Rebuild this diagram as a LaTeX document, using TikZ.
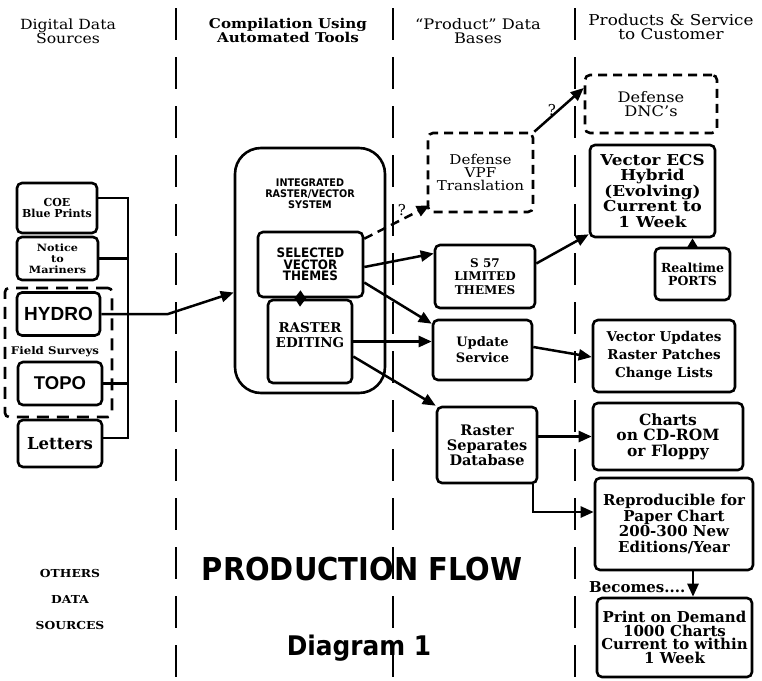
\documentclass[tikz,border=0pt]{standalone}
\usepackage{fontspec}
\setmainfont{DejaVu Serif}
\newfontfamily\heavysans{DejaVu Sans}[FakeStretch=0.92]
\newfontfamily\plainsans{Liberation Sans}
\newfontfamily\wideserif{DejaVu Serif}[FakeStretch=1.12, Ligatures=TeX]
\usetikzlibrary{arrows.meta}

\begin{document}
\begin{tikzpicture}[x=1pt,y=-1pt,
  box/.style={draw, line width=2.6pt, rounded corners=5pt, align=center, inner sep=0pt},
  dbox/.style={box, dash pattern=on 9pt off 6pt},
  conn/.style={line width=2.5pt},
  arr/.style={conn, -{Triangle[length=13pt,width=11pt]}},
  divider/.style={line width=2.8pt, dash pattern=on 32pt off 17pt},
  title/.style={font=\wideserif\fontsize{#1}{14}\selectfont, align=center, inner sep=0pt},
  bser/.style={font=\bfseries\fontsize{#1}{#1}\selectfont},
  wser/.style={font=\wideserif\bfseries\fontsize{#1}{#1}\selectfont},
  txt/.style={align=center, inner sep=0pt}
]
\useasboundingbox (0,0) rectangle (762,680);
\fill[white] (0,0) rectangle (762,680);

% column dividers
\draw[divider] (176,8) -- (176,678);
\draw[divider] (393,8) -- (393,678);
\draw[divider] (575,8) -- (575,678);

% column headings
\node[title=14] (h1) at (68,31) {Digital Data\\Sources};
\node[title=13.5, font=\wideserif\bfseries\fontsize{13.5}{14}\selectfont] (h2) at (288,30) {Compilation Using\\Automated Tools};
\node[title=14.5] (h3) at (478,31) {``Product'' Data\\Bases};
\node[title=15] (h4) at (671,27) {Products \& Service\\to Customer};

% digital data sources
\node[box, font=\bfseries\fontsize{11}{11}\selectfont, minimum width=80, minimum height=50] (coe) at (57,208) {COE\\Blue Prints};
\node[box, font=\wideserif\bfseries\fontsize{10}{11}\selectfont, minimum width=81, minimum height=43] (notice) at (57.5,258.5) {Notice\\to\\Mariners};
\node[box, font=\plainsans\bfseries\fontsize{19}{19}\selectfont, minimum width=83, minimum height=43] (hydro) at (58.5,314) {HYDRO};
\node[txt, wser=10.5] (fieldlbl) at (55,352) {Field Surveys};
\node[box, font=\plainsans\bfseries\fontsize{18.5}{18.5}\selectfont, minimum width=84, minimum height=43] (topo) at (60,383.5) {TOPO};
\node[draw, line width=2.6pt, dash pattern=on 12pt off 8pt, rounded corners=4pt, minimum width=107, minimum height=129] (field) at (58.5,352.5) {};
\node[box, bser=16.5, minimum width=84, minimum height=47] (letters) at (60,443.5) {Letters};

% collecting bus
\coordinate (bt) at (128,198);
\coordinate (bb) at (128,438);
\draw[conn] (coe.east |- bt) -- (bt) -- (bb) -- (letters.east |- bb);
\draw[conn] (notice.east) -- (notice.east -| bt);
\draw[conn] (topo.east) -- (topo.east -| bt);

% integrated system
\node[draw, line width=2.6pt, rounded corners=26pt, minimum width=150, minimum height=245] (irv) at (310,270.5) {};
\node[txt, font=\heavysans\bfseries\fontsize{10.5}{11}\selectfont] (irvtext) at (310,194) {INTEGRATED\\RASTER/VECTOR\\SYSTEM};
\node[box, font=\heavysans\bfseries\fontsize{13}{11.5}\selectfont, minimum width=105, minimum height=65] (svt) at (310.5,264.5) {SELECTED\\VECTOR\\THEMES};
\node[box, minimum width=84, minimum height=83] (re) at (310,341.5) {};
\node[txt, font=\bfseries\fontsize{13.5}{14.5}\selectfont] (retext) at (310,335) {RASTER\\EDITING};
\draw[conn, {Triangle[length=8pt,width=11pt]}-{Triangle[length=10pt,width=13pt]}]
  ([shift={(-10pt,8pt)}]svt.south) -- ([shift={(-10pt,-8pt)}]re.north);

\coordinate (bend) at (168,314);
\draw[arr] (hydro.east) -- (bend) -- ([yshift=-22pt]irv.west);

% product data bases
\node[dbox, font=\wideserif\fontsize{13.5}{13}\selectfont, minimum width=105, minimum height=79] (vpf) at (480.5,172.5) {Defense\\VPF\\Translation};
\node[box, font=\bfseries\fontsize{12}{13.5}\selectfont, minimum width=100, minimum height=63] (s57) at (485,276.5) {S 57\\LIMITED\\THEMES};
\node[box, font=\bfseries\fontsize{13}{16}\selectfont, minimum width=99, minimum height=60] (update) at (482.5,350) {Update\\Service};
\node[box, font=\bfseries\fontsize{14.5}{15}\selectfont, minimum width=100, minimum height=76] (rsd) at (487,445) {Raster\\Separates\\Database};

% products and services
\node[dbox, font=\wideserif\fontsize{14.5}{14.5}\selectfont, minimum width=132, minimum height=58] (dnc) at (651,104) {Defense\\DNC's};
\node[box, font=\wideserif\bfseries\fontsize{15}{15.5}\selectfont, minimum width=125, minimum height=92] (ecs) at (652.5,191) {Vector ECS\\Hybrid\\(Evolving)\\Current to\\1 Week};
\node[box, font=\bfseries\fontsize{12.5}{13}\selectfont, minimum width=75, minimum height=52] (rt) at (692.5,274) {Realtime\\PORTS};
\node[box, font=\bfseries\fontsize{13.5}{18}\selectfont, minimum width=142, minimum height=72] (vu) at (664,356) {Vector Updates\\Raster Patches\\Change Lists};
\node[box, font=\bfseries\fontsize{15.5}{15.5}\selectfont, minimum width=150, minimum height=67] (charts) at (668,436.5) {Charts\\on CD-ROM\\or Floppy};
\node[box, font=\bfseries\fontsize{15}{15.5}\selectfont, minimum width=158, minimum height=92] (repro) at (674,524) {Reproducible for\\Paper Chart\\200-300 New\\Editions/Year};
\node[txt, anchor=west, bser=15] (becomes) at (589,587) {Becomes....};
\node[box, font=\bfseries\fontsize{15}{13.7}\selectfont, minimum width=155, minimum height=79] (pod) at (674.5,637.5) {Print on Demand\\1000 Charts\\Current to within\\1 Week};

% flows
\draw[arr, dash pattern=on 9pt off 6pt] ([yshift=-8pt]svt.north east) -- ([shift={(3pt,8pt)}]vpf.south west);
\node[txt, font=\fontsize{15}{15}\selectfont] (q1) at (402,210) {?};
\draw[arr] ([yshift=-2.5pt]svt.east) -- ([yshift=23pt]s57.west);
\draw[arr] ([yshift=-18pt]svt.east) -- ([yshift=-5pt]update.north west);
\draw[arr] (re.east) -- (re.east -| update.west);
\draw[arr] ([yshift=-15pt]re.east) -- (rsd.north west);
\draw[arr] (vpf.north east) -- ([yshift=16pt]dnc.west);
\node[txt, font=\fontsize{15}{15}\selectfont] (q2) at (552,110) {?};
\draw[arr] ([yshift=13pt]s57.east) -- ([yshift=4pt]ecs.south west);
\draw[arr, -{Triangle[length=9pt,width=10pt]}] (rt.north) -- (rt.north |- ecs.south);
\draw[arr] ([yshift=3pt]update.east) -- ([yshift=-1pt]vu.west);
\draw[arr] (rsd.east |- charts.west) -- (charts.west);
\coordinate (rsdturn) at (533,512);
\draw[arr] (rsdturn |- rsd.south) -- (rsdturn) -- (rsdturn -| repro.west);
\draw[arr] ([xshift=19pt]repro.south) -- ([xshift=18.5pt]pod.north);

% captions
\node[txt, font=\wideserif\bfseries\fontsize{11}{26}\selectfont] (others) at (70,599) {OTHERS\\DATA\\SOURCES};
\node[txt, font=\heavysans\bfseries\fontsize{31.5}{31.5}\selectfont] (flow) at (362,569) {PRODUCTION FLOW};
\node[txt, font=\heavysans\bfseries\fontsize{27}{27}\selectfont] (diag) at (359,648) {Diagram 1};
\end{tikzpicture}
\end{document}
